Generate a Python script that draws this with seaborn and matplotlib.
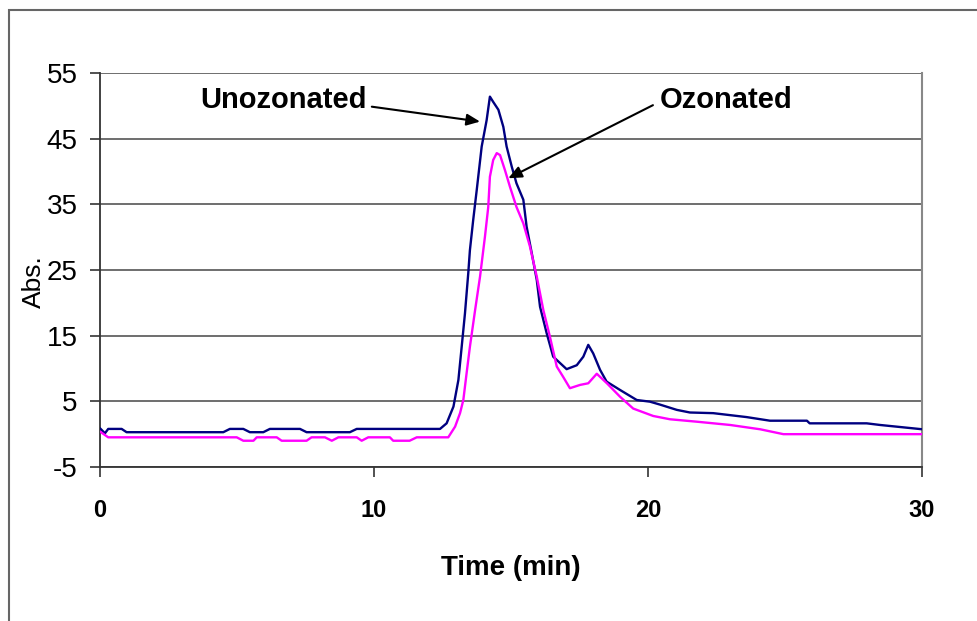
import matplotlib
matplotlib.use("Agg")
import matplotlib.pyplot as plt
from matplotlib.patches import Rectangle
import numpy as np
import pandas as pd
import seaborn as sns

# ---- data ----
unoz_time = [0.0, 0.18, 0.3, 0.79, 0.97, 4.5, 4.74, 5.23, 5.47, 5.96, 6.2, 7.3, 7.54, 9.12, 9.37,
             12.29, 12.41, 12.65, 12.9, 13.08, 13.2, 13.32, 13.44, 13.5, 13.62, 13.75, 13.93,
             14.11, 14.23, 14.35, 14.54, 14.72, 14.84, 15.03, 15.2, 15.45, 15.57, 15.76, 15.94,
             16.06, 16.3, 16.54, 17.03, 17.4, 17.64, 17.82, 18.0, 18.25, 18.49, 18.98, 19.59,
             20.07, 20.44, 21.05, 21.53, 22.38, 23.6, 24.45, 25.8, 25.9, 27.98, 28.47, 30.0]
unoz_abs = [0.9, 0.13, 0.8, 0.8, 0.3, 0.3, 0.8, 0.8, 0.3, 0.3, 0.8, 0.8, 0.3, 0.3, 0.8,
            0.8, 0.8, 1.65, 4.2, 8.25, 13.3, 18.4, 24.5, 28.0, 32.6, 37.2, 43.8,
            47.8, 51.4, 50.6, 49.4, 46.8, 43.8, 40.7, 38.2, 35.7, 31.6, 27.5, 23.5,
            19.4, 15.4, 11.8, 9.9, 10.5, 11.8, 13.6, 12.3, 9.8, 8.0, 6.73, 5.2,
            4.95, 4.5, 3.7, 3.3, 3.2, 2.6, 2.05, 2.05, 1.65, 1.65, 1.4, 0.75]

oz_time = [0.0, 0.3, 4.99, 5.23, 5.6, 5.72, 6.45, 6.63, 7.54, 7.72, 8.21, 8.46, 8.7, 9.37,
           9.55, 9.79, 10.58, 10.7, 11.3, 11.56, 12.71, 12.96, 13.14, 13.26, 13.38, 13.5,
           13.69, 13.87, 14.05, 14.17, 14.23, 14.35, 14.48, 14.6, 14.78, 14.96, 15.2, 15.45,
           15.69, 15.94, 16.18, 16.42, 16.67, 16.9, 17.15, 17.52, 17.82, 18.13, 18.5, 18.98,
           19.46, 20.19, 20.8, 21.78, 23.0, 24.1, 24.94, 30.0]
oz_abs = [0.4, -0.48, -0.48, -1.0, -1.0, -0.48, -0.48, -1.0, -1.0, -0.48, -0.48, -1.0, -0.48, -0.48,
          -1.0, -0.48, -0.48, -1.0, -1.0, -0.48, -0.48, 1.15, 3.2, 5.2, 9.3, 13.3,
          18.9, 24.0, 30.1, 34.6, 39.2, 41.75, 42.8, 42.5, 40.2, 37.7, 34.6, 32.1,
          28.6, 24.0, 18.9, 14.85, 10.3, 8.75, 7.0, 7.5, 7.75, 9.2, 7.75, 5.7,
          3.9, 2.77, 2.27, 1.9, 1.4, 0.74, 0.0, 0.0]

series_names = ["Unozonated", "Ozonated"]
x_ticks = [0, 10, 20, 30]
y_ticks = [-5, 5, 15, 25, 35, 45, 55]

df = pd.concat([
    pd.DataFrame({"Time": unoz_time, "Abs": unoz_abs, "Sample": series_names[0]}),
    pd.DataFrame({"Time": oz_time, "Abs": oz_abs, "Sample": series_names[1]}),
], ignore_index=True)

sns.set_style("white")
plt.rcParams["font.family"] = ["Liberation Sans", "DejaVu Sans"]
plt.rcParams["text.color"] = "black"
plt.rcParams["axes.labelcolor"] = "black"
plt.rcParams["xtick.color"] = "black"
plt.rcParams["ytick.color"] = "black"

W, H = 977, 621
fig = plt.figure(figsize=(W / 100, H / 100), dpi=100)
ax = fig.add_axes([100 / W, 1 - 467 / H, 822 / W, 394 / H])

sns.lineplot(data=df, x="Time", y="Abs", hue="Sample", sort=False,
             palette={"Unozonated": "#000080", "Ozonated": "#FF00FF"},
             linewidth=1.7, legend=False, ax=ax, zorder=3)

ax.set_xlim(0, 30)
ax.set_ylim(-5, 55)
ax.set_xticks(x_ticks)
ax.set_yticks(y_ticks)
ax.set_xticklabels([str(v) for v in x_ticks], fontsize=17, fontweight="bold")
ax.set_yticklabels([str(v) for v in y_ticks], fontsize=20)

ax.yaxis.grid(True, color="#555555", linewidth=1.2)
ax.xaxis.grid(False)
ax.set_axisbelow(True)

for s in ["left", "bottom"]:
    ax.spines[s].set_color("#333333")
    ax.spines[s].set_linewidth(1.3)
ax.spines["top"].set_visible(False)
ax.spines["right"].set_color("#888888")
ax.spines["right"].set_linewidth(1.5)

ax.tick_params(axis="y", direction="out", length=7, width=1.2, color="#333333", pad=9, left=True)
ax.tick_params(axis="x", direction="out", length=7, width=1.2, color="#333333", pad=16, bottom=True)

ax.set_xlabel("Time (min)", fontsize=20, fontweight="bold", labelpad=24)
ax.set_ylabel("Abs.", fontsize=19)
ax.yaxis.set_label_coords(-0.066, 0.47)

# annotations
ax.text(3.65, 50.9, "Unozonated", fontsize=21, fontweight="bold", ha="left", va="center")
ax.text(20.44, 50.9, "Ozonated", fontsize=21, fontweight="bold", ha="left", va="center")
arrow = dict(arrowstyle="-|>,head_length=0.8,head_width=0.35", color="black", lw=1.5,
             shrinkA=0, shrinkB=0)
ax.annotate("", xy=(13.87, 47.6), xytext=(9.92, 49.87), arrowprops=arrow)
ax.annotate("", xy=(14.9, 38.97), xytext=(20.18, 50.1), arrowprops=arrow)

# outer frame
fig.patches.append(Rectangle((9 / W, -0.05), 1.2, 1 - 10 / H + 0.05, transform=fig.transFigure,
                             fill=False, edgecolor="#666666", linewidth=1.5))

fig.savefig("out.png", dpi=100)
